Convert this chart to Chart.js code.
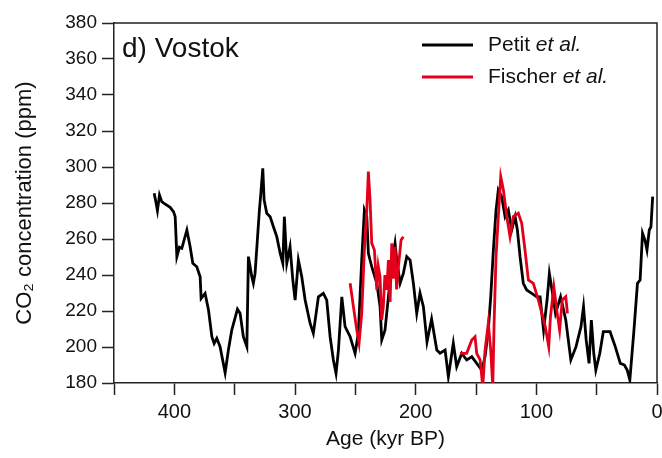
<!DOCTYPE html>
<html>
<head>
<meta charset="utf-8">
<script src="https://cdn.jsdelivr.net/npm/chart.js@4"></script>
<style>
  html, body { margin: 0; padding: 0; background: #fff; }
  #wrap { width: 662px; height: 458px; }
</style>
</head>
<body>
<div id="wrap"><canvas id="c" width="662" height="458"></canvas></div>
<script>
// ---- Data ----
const panelLabel = 'd) Vostok';
const xTitle = 'Age (kyr BP)';
const yTitle = 'CO\u2082 concentration (ppm)';
const xTickValues = [0, 50, 100, 150, 200, 250, 300, 350, 400, 450];
const xTickLabels = ['0', '', '100', '', '200', '', '300', '', '400', ''];
const yTickValues = [180, 200, 220, 240, 260, 280, 300, 320, 340, 360, 380];

const seriesNames = ['Petit', 'Fischer'];

const petitAge = [416.7, 415.1, 414.0, 412.3, 410.4, 408.5, 403.5, 400.7, 399.3, 397.9,
  395.8, 393.8, 389.6, 386.9, 384.7, 381.4, 378.6, 377.8, 374.5, 371.7,
  368.9, 367.0, 364.8, 362.1, 357.9, 355.2, 352.4, 347.7, 345.5, 342.8,
  339.9, 338.6, 335.8, 334.5, 333.1, 331.2, 329.5, 328.3, 326.7, 325.6,
  323.4, 320.6, 317.9, 315.1, 312.3, 310.1, 308.8, 306.8, 304.1, 301.8,
  299.9, 297.2, 294.4, 291.6, 287.5, 284.8, 280.6, 276.5, 273.7, 270.9,
  268.2, 266.0, 264.0, 261.2, 258.5, 254.3, 250.2, 247.5, 244.7, 242.5,
  240.5, 239.2, 236.4, 232.2, 229.5, 228.1, 225.4, 222.6, 219.8, 217.1,
  215.7, 212.9, 210.2, 207.4, 204.6, 201.9, 199.1, 196.4, 193.6, 190.6,
  186.8, 182.5, 179.8, 175.6, 172.9, 168.8, 166.0, 161.8, 157.7, 153.5,
  149.4, 145.2, 142.5, 139.8, 137.8, 135.6, 133.4, 131.5, 128.7, 125.9,
  123.2, 120.4, 117.6, 115.7, 113.5, 110.8, 108.0, 103.8, 99.7, 96.9,
  94.0, 91.1, 89.2, 87.0, 84.1, 79.9, 75.6, 71.4, 67.1, 63.0,
  60.9, 58.7, 56.3, 54.4, 52.4, 50.7, 47.4, 44.5, 38.9, 34.6,
  30.4, 27.0, 24.7, 22.5, 19.1, 16.2, 14.0, 12.0, 10.0, 8.3,
  6.4, 5.0, 3.6];
const petitCO2 = [285.4, 279.8, 275.7, 284.4, 280.7, 279.8, 277.6, 275.2, 272.4, 250.2,
  255.4, 254.8, 265.0, 255.7, 246.5, 244.6, 239.0, 227.0, 229.8, 220.6,
  205.7, 202.0, 204.8, 200.2, 185.7, 198.3, 209.4, 221.0, 218.7, 205.7,
  200.2, 250.2, 239.0, 235.4, 240.9, 259.4, 276.1, 285.4, 299.3, 281.7,
  274.3, 272.4, 266.8, 261.3, 252.1, 246.5, 272.4, 246.5, 255.7, 237.2,
  226.1, 248.3, 239.0, 226.1, 213.2, 207.6, 227.9, 229.8, 226.1, 205.7,
  192.8, 185.4, 198.3, 227.9, 211.3, 205.7, 196.5, 207.6, 248.3, 276.1,
  272.4, 252.1, 244.6, 235.4, 222.4, 203.9, 209.4, 227.9, 246.5, 257.6,
  248.3, 235.4, 240.9, 250.2, 248.3, 235.4, 218.7, 230.0, 222.4, 202.8,
  215.6, 198.3, 196.5, 198.3, 183.5, 202.1, 189.1, 196.5, 192.8, 194.6,
  190.9, 187.2, 194.6, 209.4, 227.9, 253.9, 276.1, 287.2, 283.5, 272.4,
  276.1, 265.0, 272.4, 265.0, 250.2, 235.4, 231.7, 229.8, 227.9, 227.9,
  209.4, 226.1, 240.9, 231.7, 218.7, 227.9, 215.0, 192.8, 200.2, 211.3,
  222.4, 203.9, 190.9, 215.0, 196.5, 187.2, 196.5, 208.5, 208.5, 200.2,
  190.9, 190.0, 187.2, 181.7, 209.4, 235.4, 237.2, 263.2, 259.4, 253.9,
  265.0, 266.8, 283.5];

const fischerAge = [254.3, 251.6, 248.8, 246.9, 244.7, 242.5, 240.5, 239.2, 237.8, 236.4,
  234.2, 232.2, 231.0, 229.5, 228.2, 226.8, 225.5, 223.9, 222.6, 221.2,
  219.8, 218.5, 217.1, 215.8, 214.3, 213.2, 212.1, 210.2,
  null,
  163.2, 157.7, 153.5, 150.8, 149.4, 146.6, 144.4, 142.5, 139.8, 137.8,
  136.1, 135.0, 133.4, 131.5, 129.5, 127.3, 124.5, 121.8, 119.1, 114.9,
  112.1, 109.4, 106.6, 102.5, 98.3, 96.9, 92.6, 89.7, 88.3, 85.5,
  82.7, 80.7, 78.5, 75.6, 74.2];
const fischerCO2 = [235.4, 222.4, 209.4, 202.1, 218.7, 253.9, 276.1, 297.4, 281.7, 257.6,
  253.9, 231.7, 245.0, 239.0, 215.0, 222.4, 240.0, 231.7, 248.3, 225.0,
  257.6, 238.0, 255.7, 232.0, 244.6, 252.0, 259.4, 261.3,
  null,
  196.5, 196.5, 203.9, 205.7, 196.5, 192.8, 178.0, 198.3, 213.2, 198.3,
  178.0, 213.2, 250.2, 272.4, 294.6, 287.2, 272.4, 261.3, 272.4, 274.3,
  268.7, 253.9, 237.2, 235.4, 226.1, 222.4, 211.3, 200.2, 216.8, 233.5,
  218.7, 209.4, 226.1, 227.9, 218.7];

// ---- Build datasets from arrays ----
function toPoints(xs, ys) {
  return xs.map((x, i) => ({ x: x === null ? 190 : x, y: ys[i] }));
}

const FONT = "'Liberation Sans', Arial, Helvetica, sans-serif";
const BLACK = '#000000';
const RED = '#e2001a';

const overlayPlugin = {
  id: 'overlay',
  afterDraw(chart) {
    const { ctx, chartArea } = chart;
    ctx.save();
    // frame (top and right sides)
    ctx.strokeStyle = '#222';
    ctx.lineWidth = 1.5;
    ctx.beginPath();
    ctx.moveTo(chartArea.left, chartArea.top);
    ctx.lineTo(chartArea.right, chartArea.top);
    ctx.lineTo(chartArea.right, chartArea.bottom);
    ctx.stroke();
    // panel label
    ctx.fillStyle = '#111';
    ctx.font = '28px ' + FONT;
    ctx.textBaseline = 'middle';
    ctx.textAlign = 'left';
    ctx.fillText(panelLabel, chartArea.left + 8, chartArea.top + 26);
    // legend
    const items = [
      { name: seriesNames[0], color: BLACK, y: chartArea.top + 22 },
      { name: seriesNames[1], color: RED, y: chartArea.top + 54 }
    ];
    items.forEach(it => {
      ctx.strokeStyle = it.color;
      ctx.lineWidth = 3;
      ctx.beginPath();
      ctx.moveTo(422, it.y);
      ctx.lineTo(473, it.y);
      ctx.stroke();
      ctx.fillStyle = '#111';
      ctx.font = '21px ' + FONT;
      ctx.fillText(it.name + ' ', 488, it.y);
      const w = ctx.measureText(it.name + ' ').width;
      ctx.font = 'italic 21px ' + FONT;
      ctx.fillText('et al.', 488 + w, it.y);
    });
    ctx.restore();
  }
};

new Chart(document.getElementById('c'), {
  type: 'line',
  data: {
    datasets: [
      {
        label: seriesNames[1] + ' et al.',
        data: toPoints(fischerAge, fischerCO2),
        borderColor: RED,
        borderWidth: 2.8,
        pointRadius: 0,
        tension: 0,
        spanGaps: false,
        order: 0
      },
      {
        label: seriesNames[0] + ' et al.',
        data: toPoints(petitAge, petitCO2),
        borderColor: BLACK,
        borderWidth: 2.8,
        pointRadius: 0,
        tension: 0,
        order: 1
      }
    ]
  },
  options: {
    responsive: false,
    animation: false,
    devicePixelRatio: 1,
    layout: { padding: { top: 23, right: 5, left: 0, bottom: 0 } },
    plugins: {
      legend: { display: false },
      tooltip: { enabled: false }
    },
    scales: {
      x: {
        type: 'linear',
        reverse: true,
        min: 0,
        max: 450,
        afterBuildTicks(scale) {
          scale.ticks = xTickValues.map(v => ({ value: v }));
        },
        afterFit(scale) { scale.height = 75; },
        ticks: {
          autoSkip: false,
          maxRotation: 0,
          padding: 5,
          color: '#111',
          font: { family: FONT, size: 20 },
          callback(v) {
            const i = xTickValues.indexOf(v);
            return i >= 0 ? xTickLabels[i] : '';
          }
        },
        grid: {
          drawOnChartArea: false,
          drawTicks: true,
          tickLength: 12,
          tickColor: '#222',
          tickWidth: 1.5
        },
        border: { display: true, color: '#222', width: 1.5 },
        title: {
          display: true,
          text: xTitle,
          color: '#111',
          font: { family: FONT, size: 21 },
          padding: { top: 0, bottom: 6 }
        }
      },
      y: {
        type: 'linear',
        min: 180,
        max: 380,
        afterBuildTicks(scale) {
          scale.ticks = yTickValues.map(v => ({ value: v }));
        },
        afterFit(scale) { scale.width = 114; },
        ticks: {
          autoSkip: false,
          padding: 5,
          color: '#111',
          font: { family: FONT, size: 19 }
        },
        grid: {
          drawOnChartArea: false,
          drawTicks: true,
          tickLength: 12,
          tickColor: '#222',
          tickWidth: 1.5
        },
        border: { display: true, color: '#222', width: 1.5 },
        title: {
          display: true,
          text: yTitle,
          color: '#111',
          font: { family: FONT, size: 22 },
          padding: { top: 12, bottom: 0 }
        }
      }
    }
  },
  plugins: [overlayPlugin]
});
</script>
</body>
</html>
